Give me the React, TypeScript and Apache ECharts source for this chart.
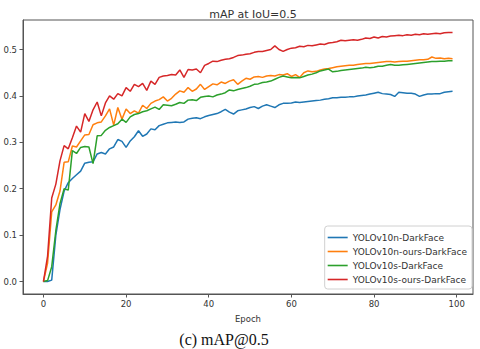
import React, { useEffect, useRef } from "react";
import * as echarts from "echarts";

const epochs: number[] = Array.from({ length: 100 }, (_, i) => i);

const seriesNames = [
  "YOLOv10n-DarkFace",
  "YOLOv10n-ours-DarkFace",
  "YOLOv10s-DarkFace",
  "YOLOv10s-ours-DarkFace",
];

const v10n = [
  0, 0, 0.003, 0.1, 0.155, 0.195, 0.213, 0.222, 0.23, 0.238,
  0.255, 0.257, 0.258, 0.275, 0.278, 0.275, 0.286, 0.29, 0.306, 0.302,
  0.289, 0.303, 0.312, 0.325, 0.313, 0.318, 0.329, 0.327, 0.336, 0.339,
  0.342, 0.343, 0.344, 0.343, 0.344, 0.35, 0.352, 0.353, 0.351, 0.355,
  0.358, 0.36, 0.362, 0.366, 0.371, 0.365, 0.361, 0.368, 0.37, 0.372,
  0.375, 0.377, 0.373, 0.378, 0.381, 0.378, 0.375, 0.381, 0.384, 0.384,
  0.385, 0.387, 0.386, 0.387, 0.388, 0.389, 0.39, 0.391, 0.393, 0.394,
  0.396, 0.396, 0.397, 0.397, 0.398, 0.398, 0.4, 0.401, 0.402, 0.404,
  0.406, 0.408, 0.405, 0.404, 0.403, 0.399, 0.408, 0.407, 0.406, 0.406,
  0.404, 0.399, 0.402, 0.404, 0.404, 0.405, 0.405, 0.408, 0.409, 0.41,
];

const v10nOurs = [
  0, 0.04, 0.15, 0.165, 0.195, 0.257, 0.258, 0.292, 0.29, 0.303,
  0.316, 0.317, 0.338, 0.342, 0.344, 0.357, 0.372, 0.337, 0.375, 0.35,
  0.372, 0.362, 0.368, 0.363, 0.38, 0.373, 0.384, 0.389, 0.392, 0.398,
  0.389, 0.395, 0.404, 0.411, 0.408, 0.418, 0.41, 0.415, 0.425, 0.414,
  0.42, 0.426, 0.424, 0.43, 0.427, 0.432, 0.435, 0.425, 0.432, 0.438,
  0.436, 0.441, 0.442, 0.44, 0.443, 0.444, 0.443, 0.446, 0.445, 0.448,
  0.442, 0.446, 0.44, 0.45, 0.454, 0.452, 0.453, 0.456, 0.458, 0.459,
  0.461, 0.463, 0.464, 0.465, 0.466, 0.466, 0.468, 0.469, 0.47, 0.47,
  0.471, 0.472, 0.473, 0.474, 0.474, 0.473, 0.474, 0.475, 0.475, 0.476,
  0.477, 0.478, 0.478, 0.479, 0.484, 0.481, 0.482, 0.48, 0.481, 0.48,
];

const v10s = [
  0, 0.002, 0.032, 0.11, 0.168, 0.2, 0.197, 0.282, 0.276, 0.289,
  0.291, 0.29, 0.254, 0.314, 0.315, 0.326, 0.332, 0.336, 0.34, 0.35,
  0.343, 0.355, 0.36, 0.362, 0.366, 0.368, 0.372, 0.376, 0.371, 0.381,
  0.38, 0.379, 0.382, 0.386, 0.384, 0.391, 0.392, 0.39, 0.397, 0.399,
  0.4, 0.398, 0.402, 0.404, 0.407, 0.413, 0.411, 0.414, 0.416, 0.418,
  0.421, 0.425, 0.426, 0.429, 0.43, 0.432, 0.436, 0.44, 0.443, 0.441,
  0.439, 0.44, 0.439, 0.442, 0.445, 0.447, 0.45, 0.454, 0.456, 0.458,
  0.452, 0.453, 0.455, 0.456, 0.457, 0.458, 0.459, 0.46, 0.462, 0.461,
  0.462, 0.464, 0.464, 0.466, 0.468, 0.466, 0.466, 0.467, 0.468, 0.469,
  0.47, 0.471, 0.472, 0.473, 0.474, 0.474, 0.475, 0.475, 0.476, 0.476,
];

const v10sOurs = [
  0, 0.055, 0.18, 0.21, 0.26, 0.293, 0.286, 0.31, 0.335, 0.322,
  0.362, 0.345, 0.37, 0.387, 0.357, 0.385, 0.4, 0.393, 0.405, 0.4,
  0.418, 0.41, 0.425, 0.42, 0.427, 0.412, 0.432, 0.425, 0.44, 0.443,
  0.444, 0.446, 0.445, 0.456, 0.44, 0.457, 0.456, 0.458, 0.45, 0.466,
  0.47, 0.475, 0.474, 0.477, 0.479, 0.48, 0.483, 0.487, 0.488, 0.49,
  0.491, 0.494, 0.496, 0.496, 0.498, 0.5, 0.508, 0.5, 0.496, 0.5,
  0.503, 0.504, 0.507, 0.506, 0.509, 0.508, 0.51, 0.512, 0.511, 0.514,
  0.515, 0.517, 0.52, 0.519, 0.52, 0.521, 0.52, 0.522, 0.525, 0.524,
  0.527, 0.525, 0.528, 0.527, 0.529, 0.53, 0.531, 0.53, 0.532, 0.531,
  0.533, 0.532, 0.534, 0.533, 0.534, 0.535, 0.534, 0.536, 0.537, 0.537,
];

const xTicks = [0, 20, 40, 60, 80, 100];
const yTicks = [0, 0.1, 0.2, 0.3, 0.4, 0.5];
const colors = ["#1f77b4", "#ff7f0e", "#2ca02c", "#d62728"];

const allSeries = [v10n, v10nOurs, v10s, v10sOurs];

export default function App() {
  const ref = useRef<HTMLDivElement>(null);
  useEffect(() => {
    if (!ref.current) return;
    const chart = echarts.init(ref.current, null, { renderer: "svg" });
    const font = "DejaVu Sans";
    chart.setOption({
      animation: false,
      backgroundColor: "#ffffff",
      title: [
        {
          text: "mAP at IoU=0.5",
          left: 248,
          top: 4,
          textAlign: "center",
          textStyle: { fontFamily: font, fontSize: 11, fontWeight: "normal", color: "#333" },
        },
        {
          text: "(c) mAP@0.5",
          left: 219,
          top: 326,
          textAlign: "center",
          textStyle: { fontFamily: "Liberation Serif", fontSize: 16, fontWeight: "normal", color: "#111" },
        },
      ],
      grid: {
        left: 23,
        top: 20,
        right: 7,
        bottom: 55,
        show: true,
        borderColor: "#555",
        borderWidth: 1,
      },
      legend: {
        orient: "vertical",
        right: 8,
        bottom: 60,
        data: seriesNames,
        icon: "rect",
        itemWidth: 20,
        itemHeight: 1.6,
        itemGap: 3,
        padding: [6, 5, 4, 3],
        backgroundColor: "#fff",
        borderColor: "#d0d0d0",
        borderWidth: 1,
        borderRadius: 3,
        textStyle: { fontFamily: font, fontSize: 9, color: "#333", lineHeight: 11 },
      },
      xAxis: {
        type: "value",
        min: -4.95,
        max: 103.95,
        name: "Epoch",
        nameLocation: "middle",
        nameGap: 20,
        nameTextStyle: { fontFamily: font, fontSize: 8.5, color: "#333" },
        axisLine: { show: true, onZero: false, lineStyle: { color: "#555" } },
        axisTick: { show: true, length: 3.5, lineStyle: { color: "#555" }, customValues: xTicks },
        axisLabel: {
          fontFamily: font,
          fontSize: 8.5,
          color: "#333",
          margin: 5,
          customValues: xTicks,
        },
        splitLine: { show: false },
      },
      yAxis: {
        type: "value",
        min: -0.0269,
        max: 0.5637,
        axisLine: { show: true, onZero: false, lineStyle: { color: "#555" } },
        axisTick: { show: true, length: 3.5, lineStyle: { color: "#555" }, customValues: yTicks },
        axisLabel: {
          fontFamily: font,
          fontSize: 8.5,
          color: "#333",
          margin: 6,
          customValues: yTicks,
          formatter: (v: number) => v.toFixed(1),
        },
        splitLine: { show: false },
      },
      series: allSeries.map((vals, i) => ({
        name: seriesNames[i],
        type: "line",
        symbol: "none",
        data: epochs.map((e, j) => [e, vals[j]]),
        lineStyle: { width: 1.5, color: colors[i] },
        itemStyle: { color: colors[i] },
      })),
    });
    return () => chart.dispose();
  }, []);
  return (
    <div
      ref={ref}
      style={{ position: "fixed", left: 0, top: 0, width: 480, height: 349 }}
    />
  );
}
